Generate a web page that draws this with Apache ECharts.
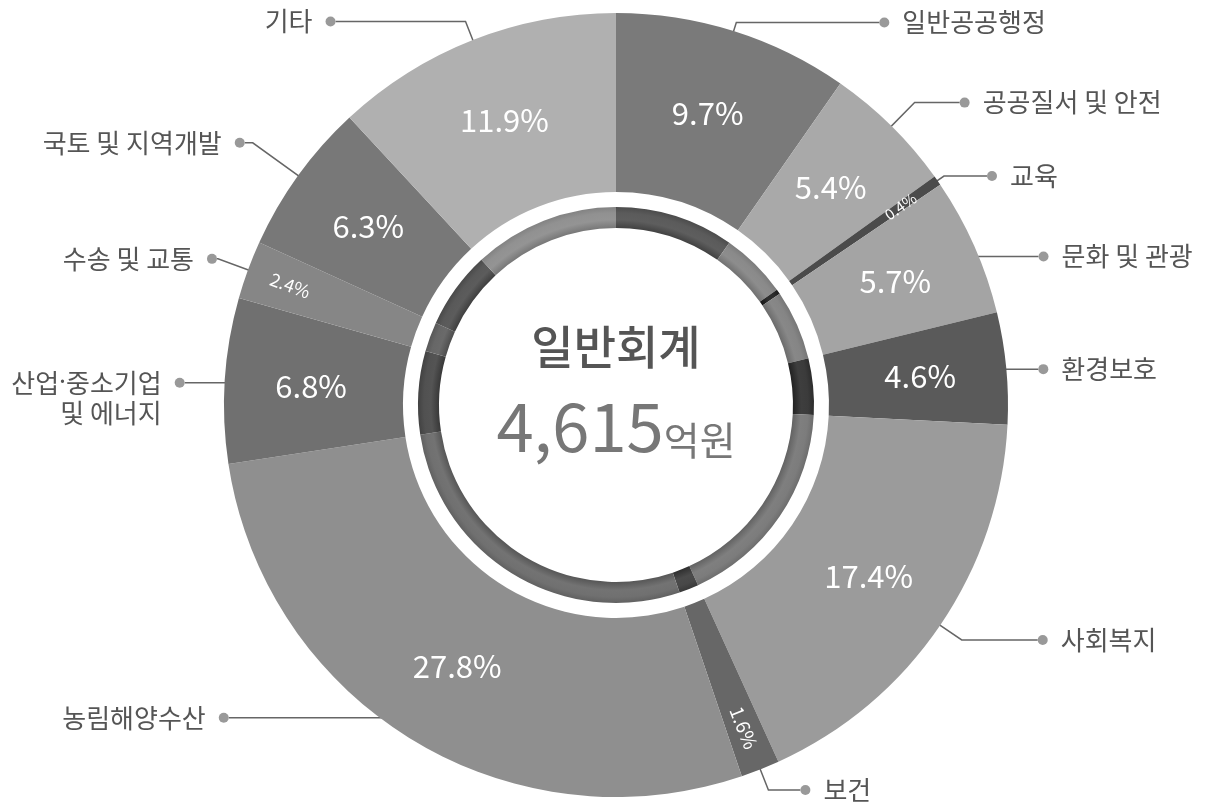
<!DOCTYPE html>
<html>
<head>
<meta charset="utf-8">
<script src="https://cdn.jsdelivr.net/npm/echarts@6/dist/echarts.min.js"></script>
<style>
  html, body { margin: 0; padding: 0; background: #fff; }
  #main { width: 1207px; height: 810px; }
</style>
</head>
<body>
<div id="main"></div>
<script>
// data
const categories = ['일반공공행정', '공공질서 및 안전', '교육', '문화 및 관광', '환경보호', '사회복지', '보건',
  '농림해양수산', '산업·중소기업\n및 에너지', '수송 및 교통', '국토 및 지역개발', '기타'];
const shares = [9.7, 5.4, 0.4, 5.7, 4.6, 17.4, 1.6, 27.8, 6.8, 2.4, 6.3, 11.9];
const centerTitle = '일반회계';
const totalAmount = '4,615';
const totalUnit = '억원';

// styles
const sliceColors = ['#7a7a7a', '#a9a9a9', '#4b4b4b', '#a4a4a4', '#5a5a5a', '#9b9b9b', '#676767',
  '#8f8f8f', '#707070', '#868686', '#787878', '#b0b0b0'];
const smallLabelSize = { 2: 15, 6: 19, 9: 18 }; // thin slices: rotated, smaller, further out
// leader line per slice: [start radius, length, length2]
const leaders = [
  [350, 51, 143], [380, 45, 45], [380, 20, 43], [365, 1, 88], [380, 1, 43], [380, 38, 76],
  [380, 34, 32], [365, 1, 197], [350, 5, 77], [380, 44, 1], [350, 98, 8], [350, 62, 130]
];

const CX = 616, CY = 405;
const FONT = '"Noto Sans CJK KR", "Noto Sans", sans-serif';

function shade(hex, d) {
  const v = Math.max(0, Math.min(255, parseInt(hex.slice(1, 3), 16) + d));
  const h = v.toString(16).padStart(2, '0');
  return '#' + h + h + h;
}

const total = shares.reduce((a, b) => a + b, 0);
let acc = 0;
const midFrac = shares.map(v => { const m = (acc + v / 2) / total; acc += v; return m; });

const chart = echarts.init(document.getElementById('main'));

const rich = {
  txt: { fontSize: 26, color: '#555', fontFamily: FONT, lineHeight: 30 },
  mid: { fontSize: 26, color: '#555', fontFamily: '"Noto Sans", sans-serif', lineHeight: 30 },
  gap: { width: 13, lineHeight: 30 },
  pad: { width: 10, lineHeight: 30 },
  dot: { width: 10, height: 10, borderRadius: 5, backgroundColor: '#999', verticalAlign: 'middle', lineHeight: 30 }
};

// narrow middle dot: render '·' with a latin font
const txt = s => '{txt|' + s.split('·').join('}{mid|·}{txt|') + '}';

function nameFormatter(p) {
  const lines = p.name.split('\n');
  if (midFrac[p.dataIndex] < 0.5) {
    return lines.map((l, k) => (k === 0 ? '{dot|}' : '{pad|}') + '{gap|}' + txt(l)).join('\n');
  }
  const body = lines.map((l, k) => txt(l) + '{gap|}' + (k === 0 ? '{dot|}' : '{pad|}')).join('\n');
  return lines.length > 1 ? '{pad|}\n' + body : body;
}

const pctFormatter = p => p.value.toFixed(1) + '%';

const outerSeries = {
  type: 'pie', center: [CX, CY], radius: [213, 392], startAngle: 90, clockwise: true,
  silent: true, avoidLabelOverlap: false,
  label: { position: 'inside', color: '#fff', fontSize: 31, fontFamily: FONT, formatter: pctFormatter },
  labelLine: { show: false },
  data: categories.map((name, i) => ({
    name, value: shares[i],
    itemStyle: { color: sliceColors[i] },
    label: { show: !(i in smallLabelSize) }
  }))
};

const ringSeries = {
  type: 'pie', center: [CX, CY], radius: [177, 198], startAngle: 90, clockwise: true,
  silent: true, label: { show: false }, labelLine: { show: false },
  data: categories.map((name, i) => {
    const base = shade(sliceColors[i], -28);
    return {
      name, value: shares[i],
      itemStyle: {
        color: {
          type: 'radial', x: CX, y: CY, r: 198, global: true,
          colorStops: [
            { offset: 0, color: shade(base, -28) },
            { offset: 0.894, color: shade(base, -28) },
            { offset: 0.935, color: base },
            { offset: 0.97, color: shade(base, -3) },
            { offset: 1, color: shade(base, -18) }
          ]
        }
      }
    };
  })
};

const smallLabelSeries = {
  type: 'pie', center: [CX, CY], radius: [296, 392], startAngle: 90, clockwise: true,
  silent: true, avoidLabelOverlap: false,
  itemStyle: { color: 'rgba(0,0,0,0)' },
  label: { position: 'inside', color: '#fff', fontFamily: FONT, formatter: pctFormatter, rotate: true },
  labelLine: { show: false },
  data: categories.map((name, i) => ({
    name, value: shares[i],
    label: (i in smallLabelSize) ? { show: true, fontSize: smallLabelSize[i] } : { show: false }
  }))
};

const leaderSeries = [350, 365, 380].map(r => ({
  type: 'pie', center: [CX, CY], radius: [0, r], startAngle: 90, clockwise: true,
  silent: true, avoidLabelOverlap: false,
  itemStyle: { color: 'rgba(0,0,0,0)' },
  label: { position: 'outside', distanceToLabelLine: 0, color: '#555', formatter: nameFormatter, rich },
  labelLine: { lineStyle: { color: '#666', width: 1.5 } },
  data: categories.map((name, i) => {
    const [r0, len, len2] = leaders[i];
    const on = r0 === r;
    return { name, value: shares[i], label: { show: on }, labelLine: { show: on, length: len, length2: len2 } };
  })
}));

chart.setOption({
  animation: false,
  backgroundColor: '#fff',
  graphic: [
    {
      type: 'text', x: CX, y: 347, z: 100,
      style: {
        text: centerTitle, font: '500 46px ' + FONT, fill: '#555',
        align: 'center', verticalAlign: 'middle', textAlign: 'center', textVerticalAlign: 'middle'
      }
    },
    {
      type: 'text', x: CX, y: 425, z: 100,
      style: {
        text: '{num|' + totalAmount + '}{unit|' + totalUnit + '}',
        align: 'center', verticalAlign: 'middle', textAlign: 'center', textVerticalAlign: 'middle',
        rich: {
          num: { fontSize: 67, fontFamily: FONT, fill: '#777', lineHeight: 70, verticalAlign: 'bottom' },
          unit: { fontSize: 39, fontFamily: FONT, fill: '#777', lineHeight: 44, verticalAlign: 'bottom' }
        }
      }
    }
  ],
  series: [outerSeries, ringSeries, smallLabelSeries].concat(leaderSeries)
});
</script>
</body>
</html>
